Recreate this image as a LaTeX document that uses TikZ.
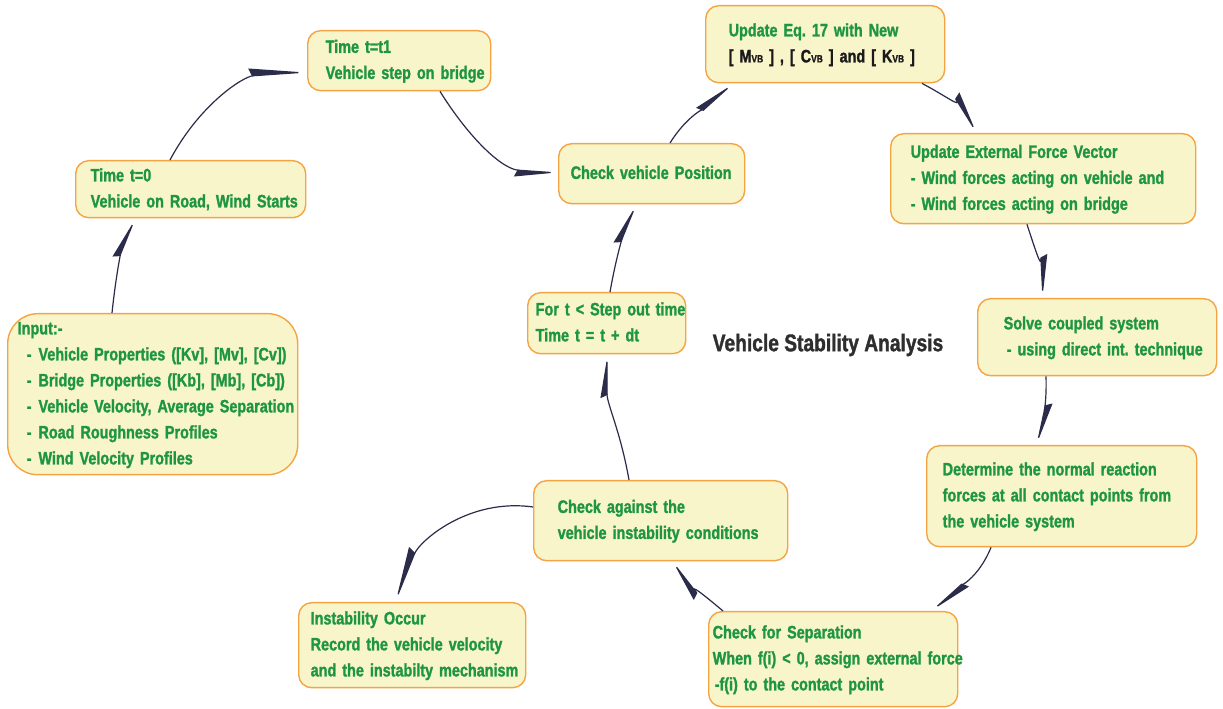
\documentclass[tikz,border=0pt]{standalone}
\usepackage{fontspec}
\setmainfont{Liberation Sans}[FakeStretch=0.8, FakeBold=1.4]
\usetikzlibrary{arrows.meta}

\definecolor{txtgreen}{HTML}{1E9640}
\definecolor{boxfill}{HTML}{F9F5CB}
\definecolor{boxedge}{HTML}{F5A443}
\definecolor{wirecol}{HTML}{2B2B4A}
\definecolor{titlecol}{HTML}{2E2E2E}
\definecolor{eqblack}{HTML}{1A1A1A}

% one block of left-aligned lines, 26pt apart
\newcommand{\boxlines}[1]{\begin{tabular}{@{}l@{}}#1\end{tabular}}
\newcommand{\sub}[1]{{\fontsize{10.5}{10.5}\selectfont #1}}
\newcommand{\dashitem}{\hspace*{9pt}-\hspace{7pt}}

\tikzset{
  box/.style={draw=boxedge, line width=1.4pt, fill=boxfill,
    rounded corners=13pt, anchor=north west, inner ysep=0pt,
    align=left, text=txtgreen,
    font=\fontsize{18}{26}\selectfont\bfseries\frenchspacing},
  wire/.style={draw=wirecol, line width=1.2pt},
  dartL/.tip={Stealth[harpoon, length=40pt, width=13pt, inset=3pt]},
  dartR/.tip={Stealth[harpoon, swap, length=40pt, width=13pt, inset=3pt]},
  dartLlong/.tip={Stealth[harpoon, length=54pt, width=15pt, inset=3pt]},
  dartRlong/.tip={Stealth[harpoon, swap, length=52pt, width=15pt, inset=3pt]},
}

\begin{document}
\begin{tikzpicture}[x=1pt, y=1pt]
\path[fill=white] (0,0) rectangle (1223,709);
\useasboundingbox (0,0) rectangle (1223,709);

% ---- process boxes ----
\node[box, minimum height=60pt, text width=147pt, inner xsep=18pt] (t1) at (307,679)
  {\boxlines{Time t=t1\\Vehicle step on bridge}};
\node[box, minimum height=57pt, text width=200pt, inner xsep=15pt] (t0) at (75,549)
  {\boxlines{Time t=0\\Vehicle on Road, Wind Starts}};
\node[box, rounded corners=30pt, minimum height=161pt, text width=270pt, inner xsep=10pt] (in) at (7,396)
  {\boxlines{Input:-\\
   \dashitem Vehicle Properties ([Kv], [Mv], [Cv])\\
   \dashitem Bridge Properties ([Kb], [Mb], [Cb])\\
   \dashitem Vehicle Velocity, Average Separation\\
   \dashitem Road Roughness Profiles\\
   \dashitem Wind Velocity Profiles}};
\node[box, minimum height=60pt, text width=162pt, inner xsep=12pt] (cvp) at (558,566)
  {\boxlines{Check vehicle Position}};
\node[box, minimum height=77pt, text width=193pt, inner xsep=23pt] (upd) at (705,704)
  {\boxlines{Update Eq. 17 with New\\
   \color{eqblack}[ M\sub{VB} ] , [ C\sub{VB} ] and [ K\sub{VB} ]}};
\node[box, minimum height=90pt, text width=265pt, inner xsep=20pt] (ext) at (890,576)
  {\boxlines{Update External Force Vector\\
   - Wind forces acting on vehicle and\\
   - Wind forces acting on bridge}};
\node[box, minimum height=77pt, text width=187pt, inner xsep=26pt] (sol) at (977,411)
  {\boxlines{Solve coupled system\\
   \hspace*{3pt}- using direct int. technique}};
\node[box, minimum height=101pt, text width=238pt, inner xsep=16pt] (det) at (926,264)
  {\boxlines{Determine the normal reaction\\
   forces at all contact points from\\
   the vehicle system}};
\node[box, minimum height=95pt, text width=241pt, inner xsep=4pt] (sep) at (708,98)
  {\boxlines{Check for Separation\\
   When f(i) < 0, assign external force\\
   \hspace*{2pt}-f(i) to the contact point}};
\node[box, minimum height=80pt, text width=206pt, inner xsep=24pt] (agn) at (533,229)
  {\boxlines{Check against the\\vehicle instability conditions}};
\node[box, minimum height=85pt, text width=203pt, inner xsep=12pt] (ins) at (298,107)
  {\boxlines{Instability Occur\\Record the vehicle velocity\\and the instabilty mechanism}};
\node[box, minimum height=61pt, text width=142pt, inner xsep=8pt] (fort) at (527,417)
  {\boxlines{For t < Step out time\\Time t = t + dt}};

% ---- title ----
\node[text=titlecol, font=\fontsize{24}{28}\selectfont\bfseries] (title) at (828,364)
  {Vehicle Stability Analysis};

% ---- connectors ----
\draw[wire, -{dartL}] ([xshift=105pt]in.north west) to[out=84,in=-112] ([xshift=60pt]t0.south west);
\draw[wire, -{dartLlong}] ([xshift=95pt]t0.north west) to[out=62,in=184] ([yshift=-42pt]t1.north west);
\draw[wire, -{dartR}] ([xshift=133pt]t1.south west) to[out=-58,in=176] ([yshift=-30pt]cvp.north west);
\draw[wire, -{dartL}] ([xshift=112pt]cvp.north west) to[out=58,in=-138] ([xshift=28pt]upd.south west);
\draw[wire, -{dartL}] ([xshift=217pt]upd.south west) to[out=-28,in=122] ([xshift=87pt]ext.north west);
\draw[wire, -{dartL}] ([xshift=137pt]ext.south west) to[out=-72,in=93] ([xshift=66pt]sol.north west);
\draw[wire, -{dartL}] ([xshift=69pt]sol.south west) to[out=-88,in=78] ([xshift=111pt]det.north west);
\draw[wire, -{dartL}] ([xshift=65pt]det.south west) to[out=-112,in=42] ([xshift=224pt]sep.north west);
\draw[wire, -{dartL}] ([xshift=15pt]sep.north west) to[out=140,in=-52] ([xshift=139pt]agn.south west);
\draw[wire, -{dartL}] ([xshift=96pt]agn.north west) to[out=100,in=-90] ([xshift=80pt]fort.south west);
\draw[wire, -{dartL}] ([xshift=83pt]fort.north west) to[out=80,in=-112] ([xshift=78pt]cvp.south west);
\draw[wire, -{dartRlong}] ([yshift=-27pt]agn.north west) to[out=172,in=68] ([xshift=97pt]ins.north west);
\end{tikzpicture}
\end{document}
